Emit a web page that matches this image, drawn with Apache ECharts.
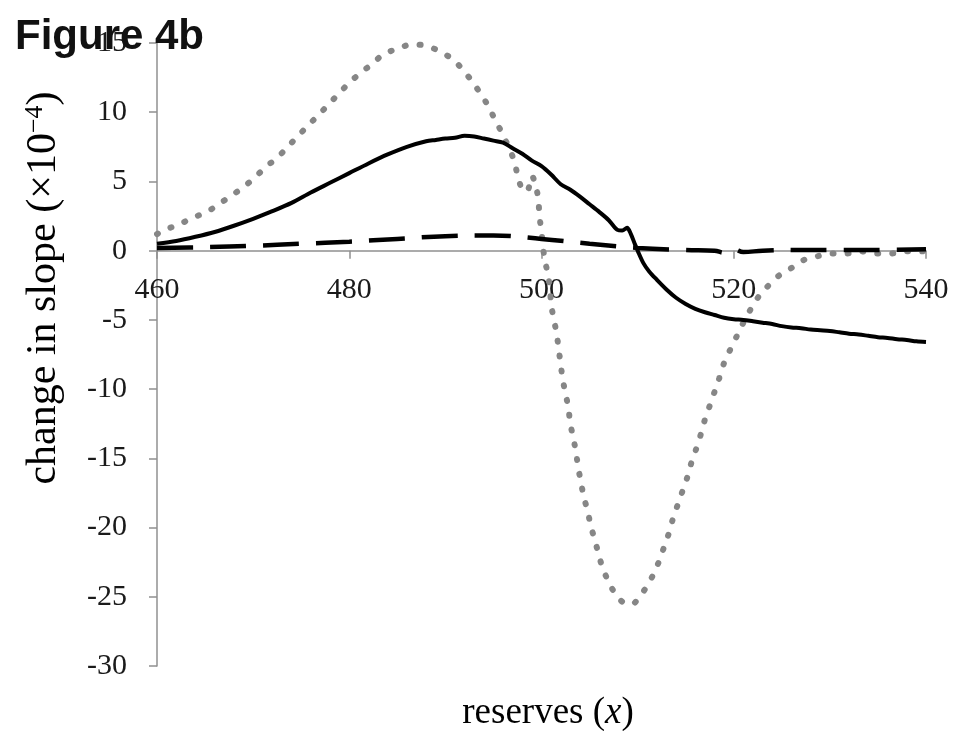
<!DOCTYPE html>
<html>
<head>
<meta charset="utf-8">
<script src="https://cdn.jsdelivr.net/npm/echarts@6/dist/echarts.min.js"></script>
<style>
  html, body { margin: 0; padding: 0; background: #fff; }
  #container { width: 961px; height: 731px; }
</style>
</head>
<body>
<div id="container"></div>
<script>
var xTicks = [460, 480, 500, 520, 540];
var yTicks = [-30, -25, -20, -15, -10, -5, 0, 5, 10, 15];

// solid curve
var solidX = [460, 462, 464, 466, 468, 470, 472, 474, 476, 478, 480, 482, 484, 486, 488, 489, 490, 491, 492, 493, 494, 495, 496, 497, 498, 499, 500, 501, 502, 503, 504, 505, 506, 507, 507.9, 508.4, 508.9, 509.3, 509.7, 510, 510.6, 511.2, 512, 513, 514, 515, 516, 517, 518, 519, 520, 521, 522, 523, 524, 525, 526, 527, 528, 529, 530, 531, 532, 533, 534, 535, 536, 537, 538, 539, 540];
var solidY = [0.5, 0.7, 1.0, 1.35, 1.8, 2.3, 2.85, 3.45, 4.2, 4.9, 5.6, 6.3, 6.95, 7.5, 7.9, 8.0, 8.1, 8.15, 8.3, 8.25, 8.1, 7.95, 7.8, 7.4, 7.0, 6.5, 6.1, 5.5, 4.8, 4.4, 3.9, 3.35, 2.8, 2.2, 1.5, 1.45, 1.65, 1.2, 0.5, 0.0, -0.9, -1.5, -2.1, -2.8, -3.4, -3.85, -4.2, -4.45, -4.65, -4.85, -4.95, -5.0, -5.1, -5.2, -5.3, -5.45, -5.55, -5.6, -5.7, -5.75, -5.8, -5.9, -6.0, -6.05, -6.15, -6.25, -6.3, -6.4, -6.45, -6.55, -6.6];

// dashed curve
var dashX = [460, 465, 470, 475, 480, 485, 490, 495, 500, 505, 510, 515, 518, 519, 520, 521, 523, 526, 530, 535, 540];
var dashY = [0.2, 0.25, 0.35, 0.5, 0.65, 0.85, 1.05, 1.1, 0.85, 0.5, 0.2, 0.05, 0.0, -0.15, 0.1, -0.1, 0.0, 0.05, 0.05, 0.05, 0.1];

// dotted curve
var dotX = [460, 460.8, 462.3, 463.8, 465.2, 466.5, 467.8, 469, 470.2, 471.4, 472.5, 473.6, 474.7, 475.8, 476.8, 477.9, 479, 480.1, 481.3, 482.4, 483.6, 485.1, 486.5, 488, 489.4, 490.8, 491.9, 492.8, 493.7, 494.5, 495.2, 495.9, 496.5, 497.1, 497.5, 498, 498.5, 499, 499.5, 499.7, 499.8, 500, 500.15, 500.35, 500.7, 500.9, 501, 501.3, 501.6, 501.8, 502, 502.2, 502.5, 502.8, 503, 503.3, 503.6, 503.8, 504.1, 504.4, 504.8, 505.1, 505.5, 505.9, 506.3, 506.9, 507.7, 508.8, 509.5, 510.1, 510.9, 511.7, 512.3, 512.8, 513.3, 513.7, 514.2, 514.7, 515.2, 515.6, 516.1, 516.6, 517, 517.5, 518, 518.5, 519, 519.6, 520.3, 521, 521.7, 522.5, 523.5, 524.7, 525.9, 527.2, 528.7, 530.2, 531.8, 533.3, 534.7, 536.4, 537.9, 539.6, 540];
var dotY = [1.2, 1.5, 1.9, 2.4, 2.8, 3.4, 4.0, 4.6, 5.3, 6.1, 6.7, 7.5, 8.3, 9.1, 9.8, 10.6, 11.4, 12.2, 12.9, 13.5, 14.2, 14.6, 14.9, 14.8, 14.4, 13.8, 13.0, 12.2, 11.3, 10.4, 9.4, 8.5, 7.6, 6.6, 5.5, 4.4, 4.3, 5.4, 4.4, 3.4, 2.4, 1.4, 0.3, -0.7, -1.8, -2.9, -3.9, -5.0, -6.1, -7.2, -8.2, -9.3, -10.3, -11.4, -12.5, -13.5, -14.6, -15.6, -16.7, -17.8, -18.8, -19.8, -20.8, -21.8, -22.8, -23.8, -24.8, -25.5, -25.5, -25.1, -24.3, -23.3, -22.3, -21.3, -20.3, -19.3, -18.3, -17.3, -16.3, -15.3, -14.3, -13.2, -12.2, -11.2, -10.2, -9.2, -8.1, -7.2, -6.2, -5.2, -4.3, -3.4, -2.6, -1.8, -1.3, -0.7, -0.4, -0.2, -0.2, -0.05, -0.2, -0.2, -0.05, -0.05, 0];

function pairs(xs, ys) {
  return xs.map(function (x, i) { return [x, ys[i]]; });
}

var gridTop = 43, gridBottom = 65, chartH = 731;
var yMin = yTicks[0], yMax = yTicks[yTicks.length - 1];
// lift the bottom x axis up to the y = 0 line (labels stay under the line)
var plotH = chartH - gridTop - gridBottom;
var zeroOffset = -plotH * (0 - yMin) / (yMax - yMin);

var serif = '"Liberation Serif", "DejaVu Serif", serif';
var chart = echarts.init(document.getElementById('container'));
var option = {
  animation: false,
  backgroundColor: '#fff',
  title: {
    text: 'Figure 4b',
    left: 10,
    top: 11,
    textStyle: { fontFamily: '"Liberation Sans", Arial, sans-serif', fontWeight: 'bold', fontSize: 42, color: '#111' }
  },
  grid: { left: 157, right: 35, top: gridTop, bottom: gridBottom },
  xAxis: {
    type: 'value',
    position: 'bottom',
    offset: zeroOffset,
    min: xTicks[0],
    max: xTicks[xTicks.length - 1],
    interval: 20,
    splitLine: { show: false },
    axisLine: { show: true, onZero: false, lineStyle: { color: '#909090', width: 1.5 } },
    axisTick: { show: true, length: 8, lineStyle: { color: '#909090', width: 1.5 } },
    axisLabel: { fontFamily: serif, fontSize: 30, color: '#1a1a1a', margin: 24 }
  },
  yAxis: {
    type: 'value',
    min: yMin,
    max: yMax,
    interval: 5,
    splitLine: { show: false },
    axisLine: { show: true, lineStyle: { color: '#909090', width: 1.5 } },
    axisTick: { show: true, length: 8, lineStyle: { color: '#909090', width: 1.5 } },
    axisLabel: { fontFamily: serif, fontSize: 30, color: '#1a1a1a', margin: 30 }
  },
  graphic: [
    {
      type: 'text',
      x: 44,
      y: 288,
      rotation: Math.PI / 2,
      style: {
        text: '{a|change in slope (×10}{s|−4}{a|)}',
        textAlign: 'center',
        textVerticalAlign: 'middle',
        rich: {
          a: { fontFamily: serif, fontSize: 42, color: '#1a1a1a' },
          s: { fontFamily: serif, fontSize: 26, color: '#1a1a1a', padding: [0, 0, 18, 0] }
        }
      }
    },
    {
      type: 'text',
      x: 548,
      y: 713,
      style: {
        text: '{a|reserves (}{i|x}{a|)}',
        textAlign: 'center',
        textVerticalAlign: 'middle',
        rich: {
          a: { fontFamily: serif, fontSize: 37, color: '#1a1a1a' },
          i: { fontFamily: serif, fontSize: 37, fontStyle: 'italic', color: '#1a1a1a' }
        }
      }
    }
  ],
  series: [
    {
      name: 'dotted',
      type: 'line',
      data: pairs(dotX, dotY),
      showSymbol: false,
      smooth: 0.3,
      lineStyle: { color: '#868686', width: 6, type: [1, 14], cap: 'round' },
      z: 2
    },
    {
      name: 'dashed',
      type: 'line',
      data: pairs(dashX, dashY),
      showSymbol: false,
      smooth: 0.4,
      lineStyle: { color: '#000', width: 4.5, type: [36, 17] },
      z: 3
    },
    {
      name: 'solid',
      type: 'line',
      data: pairs(solidX, solidY),
      showSymbol: false,
      smooth: 0.3,
      lineStyle: { color: '#000', width: 4 },
      z: 4
    }
  ]
};
chart.setOption(option);
</script>
</body>
</html>
